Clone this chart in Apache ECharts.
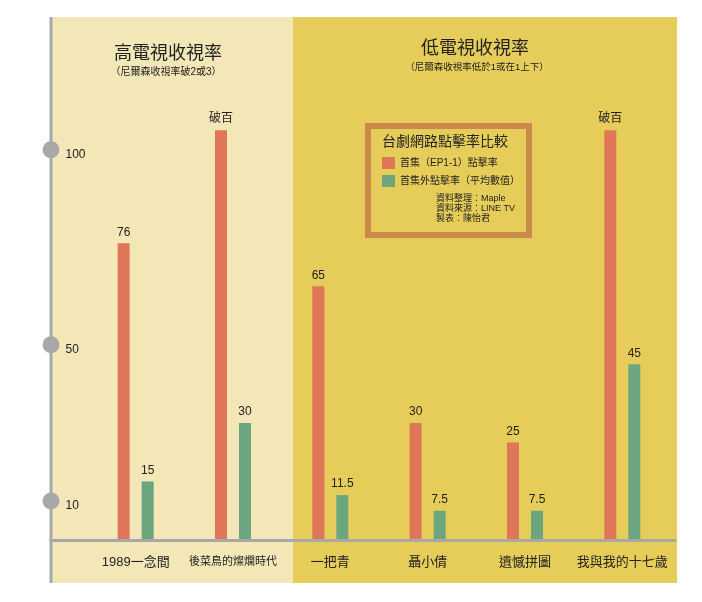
<!DOCTYPE html>
<html>
<head>
<meta charset="utf-8">
<script src="https://cdn.jsdelivr.net/npm/echarts@6/dist/echarts.min.js"></script>
<style>
html,body{margin:0;padding:0;background:#fff;}
#main{width:702px;height:602px;}
</style>
</head>
<body>
<div id="main"></div>
<script>
// 台劇網路點擊率 資料
var categories = ['1989一念間', '後菜鳥的燦爛時代', '一把青', '聶小倩', '遺憾拼圖', '我與我的十七歲'];
var firstEpisode = [76, 105, 65, 30, 25, 105];   // 首集（EP1-1）點擊率，105 = 破百
var laterEpisodes = [15, 30, 11.5, 7.5, 7.5, 45]; // 首集外點擊率（平均數值）
var tickValues = [10, 50, 100];

var FONT = "'Liberation Sans','Noto Sans CJK TC',sans-serif";
var red = '#E07658';
var green = '#6CA67F';
var gray = '#A8A8A8';

var chart = echarts.init(document.getElementById('main'));

var tickData = [];
for (var i = 0; i < tickValues.length; i++) {
	tickData.push([0, tickValues[i]]);
}

var option = {
	animation: false,
	textStyle: { fontFamily: FONT },
	legend: {
		orient: 'vertical',
		left: 382,
		top: 157,
		padding: 0,
		itemWidth: 13,
		itemHeight: 12,
		itemGap: 6,
		icon: 'rect',
		textStyle: { fontSize: 10, color: '#222', fontFamily: FONT },
		data: ['首集（EP1-1）點擊率', '首集外點擊率（平均數值）']
	},
	grid: [
		{ left: 87, right: 31, top: 17, bottom: 62 },
		{ left: 51, right: 27, top: 17, bottom: 62 }
	],
	xAxis: [{
		type: 'category',
		gridIndex: 0,
		data: categories,
		axisLine: { show: false },
		axisTick: { show: false },
		axisLabel: {
			interval: 0,
			margin: 16,
			fontSize: 13,
			color: '#222',
			fontFamily: FONT,
			formatter: function (v) {
				// 長的片名用小一點的字
				return v.length > 7 ? '{s|' + v + '}' : v;
			},
			rich: { s: { fontSize: 11, color: '#222', fontFamily: FONT } }
		}
	}, {
		type: 'value',
		gridIndex: 1,
		min: 0,
		max: 1,
		z: 3,
		axisLine: { show: true, lineStyle: { color: gray, width: 3 } },
		axisTick: { show: false },
		axisLabel: { show: false },
		splitLine: { show: false }
	}],
	yAxis: [{
		type: 'value',
		gridIndex: 0,
		min: 0,
		max: 134,
		show: false,
		splitLine: { show: false }
	}, {
		type: 'value',
		gridIndex: 1,
		min: 0,
		max: 134,
		show: false,
		splitLine: { show: false }
	}],
	graphic: [
		{ type: 'rect', z: -10, shape: { x: 51, y: 17, width: 242, height: 566 }, style: { fill: '#F3E7B8' } },
		{ type: 'rect', z: -10, shape: { x: 293, y: 17, width: 384, height: 566 }, style: { fill: '#E6CD5A' } },
		{ type: 'line', z: 1, shape: { x1: 51, y1: 17, x2: 51, y2: 583 }, style: { stroke: gray, lineWidth: 3 } },
		{ type: 'text', z: 5, style: { text: '高電視收視率', x: 168, y: 54, align: 'center', verticalAlign: 'middle', font: '18px ' + FONT, fill: '#222' } },
		{ type: 'text', z: 5, style: { text: '（尼爾森收視率破2或3）', x: 166, y: 72.5, align: 'center', verticalAlign: 'middle', font: '10px ' + FONT, fill: '#222' } },
		{ type: 'text', z: 5, style: { text: '低電視收視率', x: 475, y: 49, align: 'center', verticalAlign: 'middle', font: '18px ' + FONT, fill: '#222' } },
		{ type: 'text', z: 5, style: { text: '（尼爾森收視率低於1或在1上下）', x: 477, y: 67.5, align: 'center', verticalAlign: 'middle', font: '9.5px ' + FONT, fill: '#222' } },
		{ type: 'rect', z: 5, shape: { x: 368, y: 126, width: 161, height: 109 }, style: { fill: 'none', stroke: '#C98A4B', lineWidth: 6 } },
		{ type: 'text', z: 5, style: { text: '台劇網路點擊率比較', x: 382, y: 142, align: 'left', verticalAlign: 'middle', font: '14px ' + FONT, fill: '#222' } },
		{ type: 'text', z: 5, style: { text: '資料整理：Maple', x: 436, y: 199, align: 'left', verticalAlign: 'middle', font: '9px ' + FONT, fill: '#222' } },
		{ type: 'text', z: 5, style: { text: '資料來源：LINE TV', x: 436, y: 209, align: 'left', verticalAlign: 'middle', font: '9px ' + FONT, fill: '#222' } },
		{ type: 'text', z: 5, style: { text: '製表：陳怡君', x: 436, y: 219, align: 'left', verticalAlign: 'middle', font: '9px ' + FONT, fill: '#222' } }
	],
	series: [{
		name: '首集（EP1-1）點擊率',
		type: 'bar',
		xAxisIndex: 0,
		yAxisIndex: 0,
		data: firstEpisode,
		barWidth: 12,
		barGap: '100%',
		itemStyle: { color: red },
		label: {
			show: true,
			position: 'top',
			distance: 5,
			fontSize: 12,
			color: '#222',
			fontFamily: FONT,
			formatter: function (p) {
				return p.value > 100 ? '破百' : p.value;
			}
		}
	}, {
		name: '首集外點擊率（平均數值）',
		type: 'bar',
		xAxisIndex: 0,
		yAxisIndex: 0,
		data: laterEpisodes,
		barWidth: 12,
		itemStyle: { color: green },
		label: {
			show: true,
			position: 'top',
			distance: 5,
			fontSize: 12,
			color: '#222',
			fontFamily: FONT
		}
	}, {
		// y軸刻度圓點
		name: 'ticks',
		type: 'scatter',
		xAxisIndex: 1,
		yAxisIndex: 1,
		data: tickData,
		symbol: 'circle',
		symbolSize: 17,
		clip: false,
		silent: true,
		itemStyle: { color: gray, opacity: 1 },
		label: {
			show: true,
			position: 'right',
			distance: 6,
			offset: [0, 5],
			fontSize: 12,
			color: '#222',
			fontFamily: FONT,
			formatter: function (p) {
				return p.value[1];
			}
		}
	}]
};

chart.setOption(option);
</script>
</body>
</html>
